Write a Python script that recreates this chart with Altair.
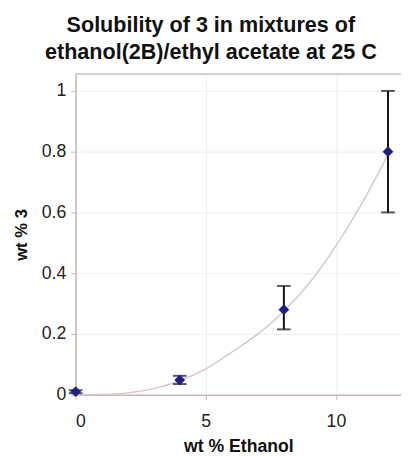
import altair as alt
import pandas as pd

# measured points
pt_x = [0, 4, 8, 12]
pt_y = [0.01, 0.048, 0.28, 0.80]
err_lo = [0.005, 0.035, 0.215, 0.60]
err_hi = [0.015, 0.062, 0.358, 1.00]

# trend line
curve_x = [0, 1, 2, 3, 4, 5, 6, 7, 8, 9, 10, 11, 12]
curve_y = [0.0, 0.001, 0.006, 0.02, 0.046, 0.085, 0.14, 0.20, 0.275, 0.37, 0.49, 0.63, 0.79]

pts = pd.DataFrame({"x": pt_x, "y": pt_y, "lo": err_lo, "hi": err_hi})
curve = pd.DataFrame({"x": curve_x, "y": curve_y})

W, H = 332, 327
xs = alt.Scale(domain=[0, 12.5], nice=False, zero=False)
ys = alt.Scale(domain=[0, 1.055], nice=False, zero=False)

xaxis = alt.Axis(values=[0, 5, 10], title="wt %  Ethanol", grid=True, gridColor="#f0eeee",
                 domainColor="#c9b8b8", domainWidth=1.5, tickColor="#c9b8b8", tickSize=5,
                 labelPadding=13, labelFontSize=18, labelColor="#222", titleFontSize=18,
                 titleFontWeight="bold", titleColor="#111", titlePadding=8, labelFont="Liberation Sans",
                 titleFont="Liberation Sans")
yaxis = alt.Axis(values=[0, 0.2, 0.4, 0.6, 0.8, 1.0], format="~g", title="wt % 3", grid=True,
                 gridColor="#f0eeee", domainColor="#c9b8b8", domainWidth=1.5, tickColor="#c9b8b8",
                 tickSize=5, labelPadding=5, labelFontSize=18, labelColor="#222", titleFontSize=17,
                 titleFontWeight="bold", titleColor="#111", titlePadding=11, labelFont="Liberation Sans",
                 titleFont="Liberation Sans")

line = alt.Chart(curve).mark_line(color="#d8c8c8", strokeWidth=1.5, interpolate="monotone", clip=False).encode(
    x=alt.X("x:Q", scale=xs, axis=xaxis),
    y=alt.Y("y:Q", scale=ys, axis=yaxis),
)
rules = alt.Chart(pts).mark_rule(color="#111", strokeWidth=2).encode(
    x="x:Q", y="lo:Q", y2="hi:Q"
)
cap_lo = alt.Chart(pts).mark_tick(orient="horizontal", color="#111", size=14, thickness=2).encode(
    x="x:Q", y="lo:Q"
)
cap_hi = alt.Chart(pts).mark_tick(orient="horizontal", color="#111", size=14, thickness=2).encode(
    x="x:Q", y="hi:Q"
)
points = alt.Chart(pts).mark_point(shape="diamond", filled=True, size=120, color="#1e1e8a", opacity=1).encode(
    x="x:Q", y="y:Q"
)
frame = alt.Chart(pts).mark_rule(color="#d6d0d0", strokeWidth=1.5).encode(
    x=alt.value(0), x2=alt.value(W), y=alt.value(0)
)

chart = alt.layer(line, frame, rules, cap_lo, cap_hi, points).properties(
    width=W, height=H,
    title=alt.TitleParams(
        ["Solubility of 3 in mixtures of", "ethanol(2B)/ethyl acetate at 25 C"],
        font="Liberation Sans", fontSize=22, fontWeight="bold", color="#111",
        anchor="middle", dx=-28, offset=10, lineHeight=27,
    ),
    autosize=alt.AutoSizeParams(type="none"),
    padding={"left": 69, "top": 63, "right": 0, "bottom": 58},
).configure_view(stroke=None).configure(background="white")

chart.save("out.html", embed_options={"renderer": "svg", "actions": False})
